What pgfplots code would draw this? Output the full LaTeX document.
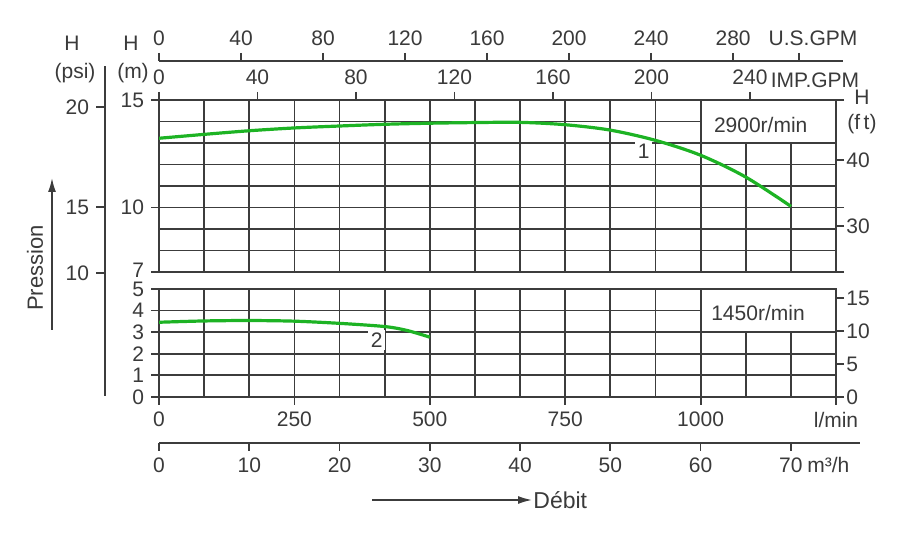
\documentclass[border=0pt]{standalone}
\usepackage{pgfplots}
\pgfplotsset{compat=1.18}
\usepackage{fontspec}
\setmainfont{Liberation Sans}
\usetikzlibrary{arrows.meta}
\definecolor{gridc}{HTML}{3C3C3C}
\definecolor{txt}{HTML}{3A3A3A}
\definecolor{curve}{HTML}{1DB324}
\newcommand\lab{\fontsize{10.5}{12}\selectfont}
\pgfplotsset{
  base/.style={scale only axis, width=338.5pt,
    /pgf/number format/assume math mode=true,
    tick label style={font=\lab, text=txt},
    axis line style={gridc, line width=0.9pt},
    every tick/.style={gridc, line width=0.9pt},
    major tick length=4pt, tick align=outside,
    major grid style={gridc, line width=0.9pt},
  },
  panel/.style={base,
    xtick={0,83.333,166.667,250,333.333,416.667,500,583.333,666.667,750,833.333,916.667,1000,1083.333,1166.667,1250},
    xticklabels={}, yticklabels={}, major tick length=0pt, grid=major,
    extra x tick style={grid=none, major tick length=4pt, tick align=outside},
    extra y tick style={grid=none, major tick length=4pt, tick align=outside},
  },
}
\begin{document}
\begin{tikzpicture}
\path[use as bounding box] (0,0) rectangle (450pt,272.5pt);
% ---------- upper panel (2900 r/min) ----------
\begin{axis}[panel, at={(79.5pt,136.5pt)}, anchor=south west, height=86pt,
  xmin=0, xmax=1250, ymin=7, ymax=15,
  ytick={7,8,...,15},
  extra y ticks={7,10,15}, extra y tick labels={\raisebox{1.5pt}{7},10,15}]
  \fill[white] ([xshift=0.5pt,yshift=-0.5pt]axis cs:1000,15) rectangle ([xshift=-0.5pt,yshift=0.5pt]axis cs:1250,13);
  \node[text=txt, font=\lab] at (axis cs:1111,13.84) {2900r/min};
  \node[fill=white, inner sep=1.2pt, text=txt, font=\lab] at (axis cs:895,12.6) {1};
  \addplot[curve, line width=1.6pt, smooth] coordinates {
    (0,13.22) (83,13.40) (167,13.57) (250,13.70) (333,13.79) (417,13.87)
    (500,13.92) (583,13.95) (667,13.96) (750,13.85) (833,13.60) (917,13.12)
    (1000,12.43) (1083,11.42) (1167,10.05)};
\end{axis}
% IMP.GPM (top) and ft (right) for upper panel
\begin{axis}[base, at={(79.5pt,136.5pt)}, anchor=south west, height=86pt,
  xmin=0, xmax=274.96, ymin=22.966, ymax=49.213,
  axis x line*=top, axis y line*=right,
  yticklabel style={inner sep=1pt},
  xtick={0,40,...,240}, ytick={30,40}]
\end{axis}
% ---------- lower panel (1450 r/min) ----------
\begin{axis}[panel, at={(79.5pt,74pt)}, anchor=south west, height=54pt,
  xmin=0, xmax=1250, ymin=0, ymax=5,
  ytick={0,1,...,5},
  extra x ticks={0,250,500,750,1000,1250}, extra x tick labels={0,250,500,750,1000,l/min},
  extra y ticks={0,1,2,3,4,5}, extra y tick labels={0,1,2,3,4,\raisebox{-1pt}{5}},
  xtick pos=bottom, ytick pos=left]
  \fill[white] ([xshift=0.5pt,yshift=-0.5pt]axis cs:1000,5) rectangle ([xshift=-0.5pt,yshift=0.5pt]axis cs:1250,3);
  \node[text=txt, font=\lab] at (axis cs:1106,3.89) {1450r/min};
  \node[fill=white, inner sep=1.2pt, text=txt, font=\lab] at (axis cs:402,2.64) {2};
  \addplot[curve, line width=1.6pt, smooth] coordinates {
    (0,3.46) (83,3.52) (167,3.54) (250,3.51) (333,3.41) (417,3.26) (458,3.08) (500,2.77)};
\end{axis}
% ft for lower panel
\begin{axis}[base, at={(79.5pt,74pt)}, anchor=south west, height=54pt,
  xmin=0, xmax=1, ymin=0, ymax=16.404,
  axis x line=none, axis y line*=right, yticklabel style={inner sep=1pt},
  ytick={0,5,10,15}]
\end{axis}
% U.S.GPM axis
\begin{axis}[base, at={(79.5pt,242pt)}, anchor=north west, width=342pt, height=1pt,
  xmin=0, xmax=333.6, ymin=0, ymax=1,
  axis x line*=top, axis y line=none,
  xtick={0,40,...,280}, extra x ticks={312}, extra x tick labels={}]
\end{axis}
% m3/h axis
\begin{axis}[base, at={(79.5pt,51pt)}, anchor=south west, width=350.5pt, height=1pt,
  xmin=0, xmax=77.66, ymin=0, ymax=1,
  axis x line*=bottom, axis y line=none,
  xtick={0,10,...,70}]
\end{axis}
% psi axis
\begin{axis}[base, at={(52.5pt,74.5pt)}, anchor=south west, width=1pt, height=165pt,
  xmin=0, xmax=1, ymin=-396, ymax=-66,
  axis x line=none, axis y line*=left, major tick length=4.5pt,
  ytick={-273,-207,-107}, yticklabels={10,15,20}]
\end{axis}
% ---------- texts and arrows ----------
\begin{scope}[every node/.style={text=txt, font=\lab}]
  \node at (36pt,251pt) {H};
  \node at (37.5pt,236pt) {(psi)};
  \node at (65.5pt,251pt) {H};
  \node at (66.5pt,236pt) {(m)};
  \node at (431pt,224pt) {H};
  \node at (431pt,210.5pt) {(f\,t)};
  \node at (407.5pt,232.5pt) {IMP.GPM};
  \node at (406.5pt,253.5pt) {U.S.GPM};
  \node[anchor=west, inner sep=0pt] at (403.5pt,40pt) {m³/h};
  \node[rotate=90, font=\fontsize{11}{13}\selectfont] at (17.5pt,138.5pt) {Pression};
  \node[anchor=west, inner sep=0pt, font=\fontsize{11.5}{13}\selectfont] at (266.5pt,22.5pt) {Débit};
\end{scope}
\draw[gridc, line width=0.8pt, -{Latex[length=7pt,width=4pt]}] (186pt,22.5pt) -- (266pt,22.5pt);
\draw[gridc, line width=0.8pt, -{Latex[length=7pt,width=4pt]}] (26pt,107.5pt) -- (26pt,183.5pt);
\end{tikzpicture}
\end{document}
